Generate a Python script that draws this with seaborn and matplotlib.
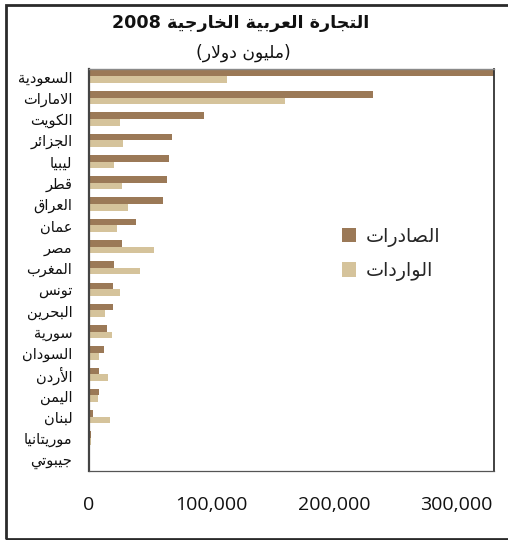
import matplotlib
matplotlib.use('Agg')
import pandas as pd
import matplotlib.pyplot as plt
import seaborn as sns
from matplotlib.patches import Rectangle, Patch
from matplotlib.ticker import FuncFormatter

# data (million USD)
countries = ['السعودية', 'الامارات', 'الكويت', 'الجزائر', 'ليبيا', 'قطر', 'العراق',
             'عمان', 'مصر', 'المغرب', 'تونس', 'البحرين', 'سورية', 'السودان',
             'الأردن', 'اليمن', 'لبنان', 'موريتانيا', 'جيبوتي']
exports = [335000, 232000, 94000, 68000, 65000, 64000, 60000, 38000, 27000, 20000,
           19500, 19500, 14700, 12000, 8000, 8000, 3500, 1800, 400]
imports = [112500, 160000, 25000, 28000, 20000, 27000, 32000, 23000, 53000, 42000,
           25000, 13000, 18700, 8000, 15500, 7300, 17000, 1800, 500]
series_names = ['الصادرات', 'الواردات']
x_ticks = [0, 100000, 200000, 300000]

title = 'التجارة العربية الخارجية'
title_year = '2008'
subtitle = 'مليون دولار'

colors = ['#9B7957', '#D5C39B']

# matplotlib has no arabic shaping, so map letters to presentation forms by hand
PRES = {
    'ء': (0xFE80, 1), 'آ': (0xFE81, 2), 'أ': (0xFE83, 2), 'ؤ': (0xFE85, 2),
    'إ': (0xFE87, 2), 'ئ': (0xFE89, 4), 'ا': (0xFE8D, 2), 'ب': (0xFE8F, 4),
    'ة': (0xFE93, 2), 'ت': (0xFE95, 4), 'ث': (0xFE99, 4), 'ج': (0xFE9D, 4),
    'ح': (0xFEA1, 4), 'خ': (0xFEA5, 4), 'د': (0xFEA9, 2), 'ذ': (0xFEAB, 2),
    'ر': (0xFEAD, 2), 'ز': (0xFEAF, 2), 'س': (0xFEB1, 4), 'ش': (0xFEB5, 4),
    'ص': (0xFEB9, 4), 'ض': (0xFEBD, 4), 'ط': (0xFEC1, 4), 'ظ': (0xFEC5, 4),
    'ع': (0xFEC9, 4), 'غ': (0xFECD, 4), 'ف': (0xFED1, 4), 'ق': (0xFED5, 4),
    'ك': (0xFED9, 4), 'ل': (0xFEDD, 4), 'م': (0xFEE1, 4), 'ن': (0xFEE5, 4),
    'ه': (0xFEE9, 4), 'و': (0xFEED, 2), 'ى': (0xFEEF, 2), 'ي': (0xFEF1, 4),
}
LAM_ALEF = {'آ': 0xFEF5, 'أ': 0xFEF7, 'إ': 0xFEF9, 'ا': 0xFEFB}


def shape(text):
    units = []
    i = 0
    while i < len(text):
        c = text[i]
        if c == 'ل' and i + 1 < len(text) and text[i + 1] in LAM_ALEF:
            units.append(('LA', text[i + 1]))
            i += 2
        else:
            units.append(('C', c))
            i += 1
    out = []
    for k, (kind, c) in enumerate(units):
        prev = units[k - 1] if k > 0 else None
        nxt = units[k + 1] if k + 1 < len(units) else None
        joins_prev = prev is not None and prev[0] == 'C' and PRES.get(prev[1], (0, 0))[1] == 4
        if kind == 'LA':
            out.append(chr(LAM_ALEF[c] + (1 if joins_prev else 0)))
            continue
        if c not in PRES:
            out.append(c)
            continue
        base, n = PRES[c]
        joins_next = n == 4 and nxt is not None and (nxt[0] == 'LA' or nxt[1] in PRES)
        if n == 1:
            idx = 0
        elif joins_prev and joins_next:
            idx = 3
        elif joins_prev:
            idx = 1
        elif joins_next:
            idx = 2
        else:
            idx = 0
        out.append(chr(base + idx))
    return ''.join(out)


def rtl(text):
    return shape(text)[::-1]


sns.set_theme(style='white')
plt.rcParams['font.family'] = ['DejaVu Sans']

df = pd.DataFrame({
    'country': [rtl(c) for c in countries] * 2,
    'value': exports + imports,
    'type': [rtl(series_names[0])] * len(countries) + [rtl(series_names[1])] * len(countries),
})

fig = plt.figure(figsize=(5.08, 5.40), dpi=100)
ax = fig.add_axes([89 / 508, 1 - 471 / 540, (494 - 89) / 508, (471 - 69) / 540])

sns.barplot(data=df, x='value', y='country', hue='type', palette=colors, orient='h',
            width=0.62, gap=0, saturation=1, ax=ax, legend=False,
            linewidth=0, edgecolor='none')

ax.set_xlim(0, 330500)
ax.set_ylim(18.55, -0.35)
ax.set_xlabel('')
ax.set_ylabel('')
ax.set_xticks(x_ticks)
ax.xaxis.set_major_formatter(FuncFormatter(lambda v, p: f'{int(v):,}'))
ax.tick_params(axis='x', length=0, pad=18, labelsize=14)
ax.tick_params(axis='y', length=0, pad=12, labelsize=10.5)
for lab in ax.get_xticklabels():
    lab.set_fontfamily('Open Sans')
    lab.set_color('#111111')
for lab in ax.get_yticklabels():
    lab.set_color('#111111')

for side in ['top', 'right', 'bottom', 'left']:
    ax.spines[side].set_visible(True)
ax.spines['left'].set_color('#444444')
ax.spines['left'].set_linewidth(1.6)
ax.spines['top'].set_color('#8a8a8a')
ax.spines['top'].set_linewidth(1.0)
ax.spines['right'].set_color('#333333')
ax.spines['right'].set_linewidth(1.3)
ax.spines['bottom'].set_color('#555555')
ax.spines['bottom'].set_linewidth(0.9)

handles = [Patch(facecolor=c, edgecolor='none') for c in colors]
fig.legend(handles, [rtl(s) for s in series_names], loc='center left',
           bbox_to_anchor=(342 / 508, 1 - 254 / 540), frameon=False, fontsize=13.8,
           handlelength=0.75, handleheight=0.75, handletextpad=0.5,
           labelspacing=0.75, borderpad=0, borderaxespad=0)

fig.text(241 / 508, 1 - 23 / 540, title_year + ' ' + rtl(title), ha='center', va='center',
         fontsize=12.6, fontweight='bold', color='#111111')
fig.text(243 / 508, 1 - 53 / 540, '(' + rtl(subtitle) + ')', ha='center', va='center',
         fontsize=12.4, color='#111111')

# outer frame
fig.patches.append(Rectangle((6 / 508, 1.5 / 540), 1.1, 534 / 540, transform=fig.transFigure,
                             fill=False, edgecolor='#2a2a2a', linewidth=2.0))

fig.savefig('out.png', dpi=100)
